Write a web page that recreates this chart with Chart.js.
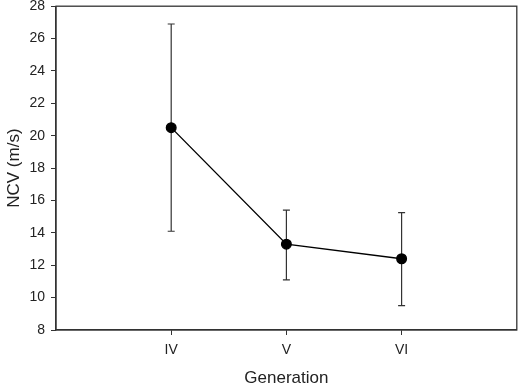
<!DOCTYPE html>
<html>
<head>
<meta charset="utf-8">
<script src="https://cdn.jsdelivr.net/npm/chart.js@4/dist/chart.umd.min.js"></script>
<style>
  html, body { margin: 0; padding: 0; background: #fff; }
  #wrap { width: 523px; height: 387px; }
</style>
</head>
<body>
<div id="wrap"><canvas id="grafico"></canvas></div>
<script>
// dados
const generations = ["IV", "V", "VI"];
const ncvMean = [20.5, 13.3, 12.4];
const ncvUpper = [26.9, 15.4, 15.25];
const ncvLower = [14.1, 11.1, 9.5];
const yTicks = [8, 10, 12, 14, 16, 18, 20, 22, 24, 26, 28];

const fonte = "'Liberation Sans', Arial, sans-serif";
const corEixo = "#333";

// categorias vazias nas pontas para deixar espaço como no original
const labels = ["", ...generations, ""];
const dados = [null, ...ncvMean, null];

// barras de erro desenhadas pelas escalas do Chart.js
const barrasErro = {
    id: "barrasErro",
    beforeDatasetsDraw(chart) {
        const { ctx, scales: { x, y } } = chart;
        ctx.save();
        ctx.strokeStyle = "#333";
        ctx.lineWidth = 1.2;
        generations.forEach((g, i) => {
            const px = x.getPixelForValue(i + 1);
            const top = y.getPixelForValue(ncvUpper[i]);
            const bot = y.getPixelForValue(ncvLower[i]);
            ctx.beginPath();
            ctx.moveTo(px, top);
            ctx.lineTo(px, bot);
            ctx.moveTo(px - 3.5, top);
            ctx.lineTo(px + 3.5, top);
            ctx.moveTo(px - 3.5, bot);
            ctx.lineTo(px + 3.5, bot);
            ctx.stroke();
        });
        ctx.restore();
    },
    afterDraw(chart) {
        // moldura do gráfico (topo e direita)
        const { ctx, chartArea: a } = chart;
        ctx.save();
        ctx.strokeStyle = corEixo;
        ctx.lineWidth = 1.3;
        ctx.strokeRect(a.left, a.top, a.right - a.left, a.bottom - a.top);
        ctx.restore();
    }
};

new Chart(document.getElementById("grafico"), {
    type: "line",
    data: {
        labels: labels,
        datasets: [{
            data: dados,
            borderColor: "#000",
            borderWidth: 1.4,
            backgroundColor: "#000",
            pointBackgroundColor: "#000",
            pointBorderColor: "#000",
            pointRadius: 4.8,
            tension: 0
        }]
    },
    options: {
        responsive: true,
        maintainAspectRatio: false,
        animation: false,
        layout: { padding: { top: 6, right: 5, left: 0, bottom: 0 } },
        plugins: { legend: { display: false }, tooltip: { enabled: false } },
        scales: {
            x: {
                type: "category",
                offset: false,
                afterFit: s => { s.height = 57; s.paddingLeft = 0; s.paddingRight = 0; },
                grid: {
                    drawOnChartArea: false,
                    drawTicks: true,
                    tickLength: 5,
                    tickColor: c => (c.index === 0 || c.index === labels.length - 1) ? "rgba(0,0,0,0)" : corEixo
                },
                border: { color: corEixo, width: 1.3 },
                ticks: {
                    color: "#222",
                    padding: 7,
                    maxRotation: 0,
                    autoSkip: false,
                    font: { family: fonte, size: 14 }
                },
                title: {
                    display: true,
                    text: "Generation",
                    color: "#222",
                    padding: { top: 0, bottom: 0 },
                    font: { family: fonte, size: 17, lineHeight: 1 }
                }
            },
            y: {
                min: 8,
                max: 28,
                afterFit: s => { s.width = 56; s.paddingTop = 0; s.paddingBottom = 0; },
                afterBuildTicks: s => { s.ticks = yTicks.map(v => ({ value: v })); },
                grid: {
                    drawOnChartArea: false,
                    drawTicks: true,
                    tickLength: 5,
                    tickColor: corEixo
                },
                border: { color: corEixo, width: 1.3 },
                ticks: {
                    color: "#222",
                    padding: 6,
                    font: { family: fonte, size: 14 }
                },
                title: {
                    display: true,
                    text: "NCV (m/s)",
                    color: "#222",
                    padding: { top: 4, bottom: 0 },
                    font: { family: fonte, size: 17 }
                }
            }
        }
    },
    plugins: [barrasErro]
});
</script>
</body>
</html>
